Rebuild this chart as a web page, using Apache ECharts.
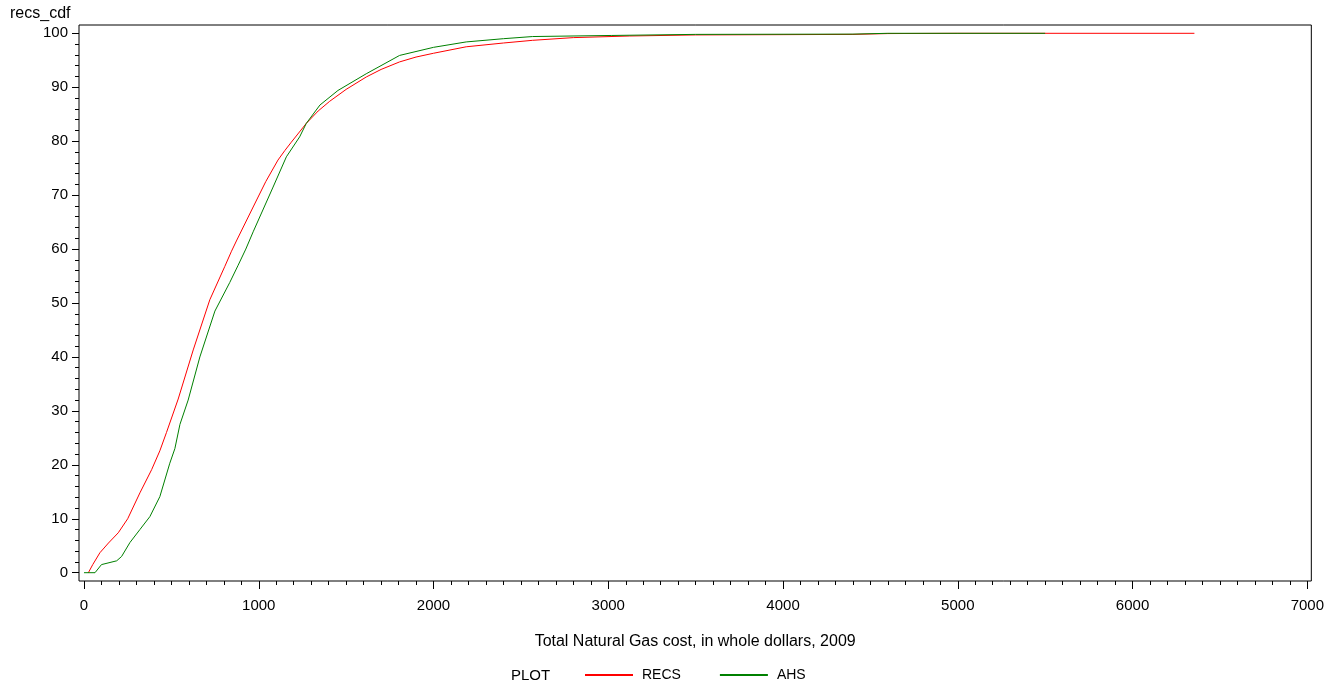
<!DOCTYPE html>
<html>
<head>
<meta charset="utf-8">
<script src="https://cdn.jsdelivr.net/npm/echarts@6/dist/echarts.min.js"></script>
<style>html,body{margin:0;padding:0;background:#fff}#c{width:1327px;height:683px}</style>
</head>
<body>
<div id="c"></div>
<script>
var recs = [[25,0],[50,1.5],[91,3.7],[140,5.5],[196,7.4],[250,10],[320,14.8],[387,19.1],[434,22.6],[472,26],[539,32.2],[625,41.3],[720,50.6],[806,56.8],[844,59.6],[872,61.5],[968,67.8],[1040,72.5],[1110,76.5],[1150,78.3],[1186,79.8],[1272,83.3],[1340,85.6],[1406,87.4],[1500,89.6],[1615,91.9],[1700,93.3],[1806,94.7],[1900,95.6],[2000,96.3],[2187,97.5],[2400,98.2],[2567,98.7],[2800,99.2],[3120,99.5],[3500,99.7],[4000,99.75],[4400,99.8],[4600,99.95],[5000,100],[6354,100]];
var ahs = [[0,0],[63,0],[100,1.5],[187,2.2],[215,3],[263,5.6],[320,8],[377,10.4],[434,14.1],[491,20.3],[520,23],[549,27.5],[596,32],[663,40],[749,48.5],[834,53.8],[882,57],[926,60],[968,63.2],[1082,71.5],[1158,77.1],[1234,80.8],[1272,83.3],[1350,86.7],[1453,89.4],[1615,92.5],[1806,95.9],[2000,97.4],[2187,98.4],[2400,99],[2567,99.4],[3020,99.6],[3500,99.8],[4400,99.85],[4600,100],[5500,100]];
var seriesNames = ['RECS','AHS'];
var xTicks = [0,1000,2000,3000,4000,5000,6000,7000];
var yTicks = [0,10,20,30,40,50,60,70,80,90,100];
var xName = 'Total Natural Gas cost, in whole dollars, 2009';
var yName = 'recs_cdf';
var legendTitle = 'PLOT';

function minorOf(ticks, n) {
  var out = [];
  for (var i = 0; i < ticks.length - 1; i++) {
    var step = (ticks[i+1] - ticks[i]) / n;
    for (var k = 1; k < n; k++) out.push(ticks[i] + step * k);
  }
  return out;
}
var xMinor = minorOf(xTicks, 10);
var yMinor = minorOf(yTicks, 5);

var font = 'Liberation Sans, Arial, sans-serif';
var xMin = -28.6, xMax = 7022.9, yMin = -1.54, yMax = 101.54;
var noLine = {show: false, onZero: false};
var chart = echarts.init(document.getElementById('c'), null, {renderer:'canvas'});
chart.setOption({
  animation: false,
  backgroundColor: '#fff',
  title: [
    {text: yName, left: 10, top: 6, padding: 0, textStyle: {fontSize: 16, fontWeight: 'normal', color: '#000', fontFamily: font}},
    {text: legendTitle, left: 511, top: 668, padding: 0, textStyle: {fontSize: 15, fontWeight: 'normal', color: '#000', fontFamily: font}}
  ],
  legend: {
    data: seriesNames, left: 585, top: 668, padding: 0, icon: 'rect', itemWidth: 48, itemHeight: 2, itemGap: 39,
    textStyle: {fontSize: 14, color: '#000', fontFamily: font, padding: [2,0,0,4]}
  },
  grid: {left: 79, right: 14, top: 25, bottom: 102, show: true, borderColor: '#000', borderWidth: 1, backgroundColor: 'transparent'},
  xAxis: [{
    type: 'value', min: xMin, max: xMax, position: 'bottom',
    name: xName, nameLocation: 'middle', nameGap: 53,
    nameTextStyle: {fontSize: 16, color: '#000', fontFamily: font},
    axisLine: noLine,
    axisTick: {show: true, length: 8, inside: false, customValues: xTicks, lineStyle: {color: '#000'}},
    axisLabel: {fontSize: 15, color: '#000', fontFamily: font, margin: 17, customValues: xTicks, formatter: function(v){return String(v);}},
    splitLine: {show: false}
  }, {
    type: 'value', min: xMin, max: xMax, position: 'bottom',
    axisLine: noLine,
    axisTick: {show: true, length: 4, inside: false, customValues: xMinor, lineStyle: {color: '#000'}},
    axisLabel: {show: false},
    splitLine: {show: false}
  }],
  yAxis: [{
    type: 'value', min: yMin, max: yMax, position: 'left',
    axisLine: noLine,
    axisTick: {show: true, length: 7, inside: false, customValues: yTicks, lineStyle: {color: '#000'}},
    axisLabel: {fontSize: 15, color: '#000', fontFamily: font, margin: 11, customValues: yTicks, formatter: function(v){return String(v);}},
    splitLine: {show: false}
  }, {
    type: 'value', min: yMin, max: yMax, position: 'left',
    axisLine: noLine,
    axisTick: {show: true, length: 4, inside: false, customValues: yMinor, lineStyle: {color: '#000'}},
    axisLabel: {show: false},
    splitLine: {show: false}
  }],
  series: [
    {name: seriesNames[0], type: 'line', xAxisIndex: 0, yAxisIndex: 0, data: recs, showSymbol: false, symbol: 'none', color: '#ff0000', lineStyle: {width: 1, color: '#ff0000'}},
    {name: seriesNames[1], type: 'line', xAxisIndex: 0, yAxisIndex: 0, data: ahs, showSymbol: false, symbol: 'none', color: '#008000', lineStyle: {width: 1, color: '#008000'}}
  ]
});
</script>
</body>
</html>
